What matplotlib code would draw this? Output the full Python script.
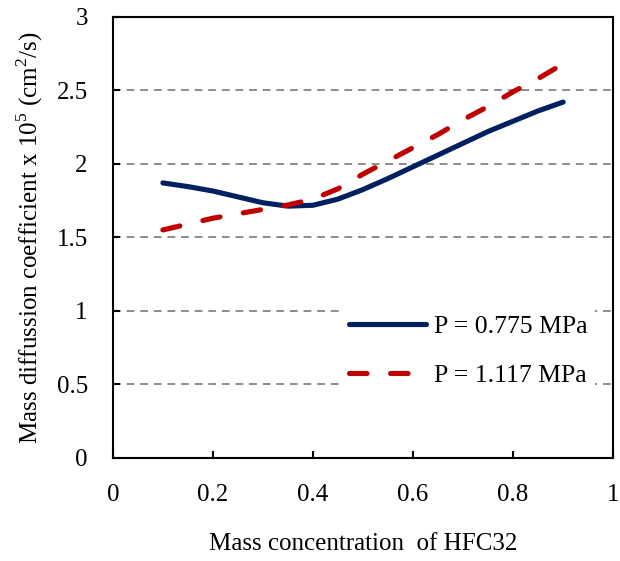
import matplotlib.pyplot as plt
import numpy as np

plt.rcParams['font.family'] = ['Liberation Serif', 'DejaVu Serif']
plt.rcParams['mathtext.fontset'] = 'custom'
plt.rcParams['mathtext.rm'] = 'Liberation Serif'

# concentracion masica de HFC32
conc = [0.1, 0.15, 0.2, 0.25, 0.3, 0.35, 0.4, 0.45, 0.5,
        0.55, 0.6, 0.65, 0.7, 0.75, 0.8, 0.85, 0.9]
# P = 0.775 MPa
d_0775 = [1.87, 1.845, 1.815, 1.775, 1.735, 1.712, 1.718, 1.76, 1.825,
          1.90, 1.98, 2.06, 2.14, 2.22, 2.29, 2.36, 2.42]
# P = 1.117 MPa
d_1117 = [1.55, 1.59, 1.63, 1.66, 1.69, 1.72, 1.76, 1.83, 1.93,
          2.02, 2.11, 2.20, 2.30, 2.39, 2.49, 2.58, 2.68]

xticks = [0, 0.2, 0.4, 0.6, 0.8, 1]
xticklabels = ['0', '0.2', '0.4', '0.6', '0.8', '1']
yticks = [0, 0.5, 1, 1.5, 2, 2.5, 3]
yticklabels = ['0', '0.5', '1', '1.5', '2', '2.5', '3']

fig = plt.figure(figsize=(6.2, 5.61), dpi=100)
ax = fig.add_axes([0.182, 0.184, 0.807, 0.786])

# lineas de la cuadricula
for g in yticks[1:-1]:
    ax.axhline(g, color='#8c8c8c', lw=1.4, dashes=(4, 3), zorder=0)

ax.plot(conc, d_0775, color='#002060', lw=3.7, solid_capstyle='round',
        solid_joinstyle='round', label='P = 0.775 MPa', zorder=3)
ax.plot(conc, d_1117, color='#C00000', lw=3.7, dashes=(3.4, 4.6),
        dash_capstyle='round', dash_joinstyle='round',
        label='P = 1.117 MPa', zorder=3)

ax.set_xlim(0, 1)
ax.set_ylim(0, 3)
ax.set_xticks(xticks)
ax.set_xticklabels(xticklabels)
ax.set_yticks(yticks)
ax.set_yticklabels(yticklabels)
ax.tick_params(direction='in', length=5, width=1.5, labelsize=18)
ax.tick_params(axis='x', pad=19)
ax.tick_params(axis='y', pad=18)
for s in ax.spines.values():
    s.set_linewidth(1.5)

ax.set_xlabel('Mass concentration  of HFC32', fontsize=18, labelpad=19)
ax.set_ylabel('Mass diffussion coefficient x 10$^{5}$ (cm$^{2}$/s)', fontsize=18, labelpad=8)

leg = ax.legend(loc='upper right', bbox_to_anchor=(0.99, 0.37), fontsize=18.5,
                frameon=True, fancybox=False, framealpha=1, handlelength=3.0,
                handletextpad=0.3, labelspacing=1.0, borderpad=0.3)
leg.get_frame().set_edgecolor('none')
leg.get_frame().set_facecolor('white')
leg.set_zorder(2)

plt.savefig('out.png', dpi=100)
